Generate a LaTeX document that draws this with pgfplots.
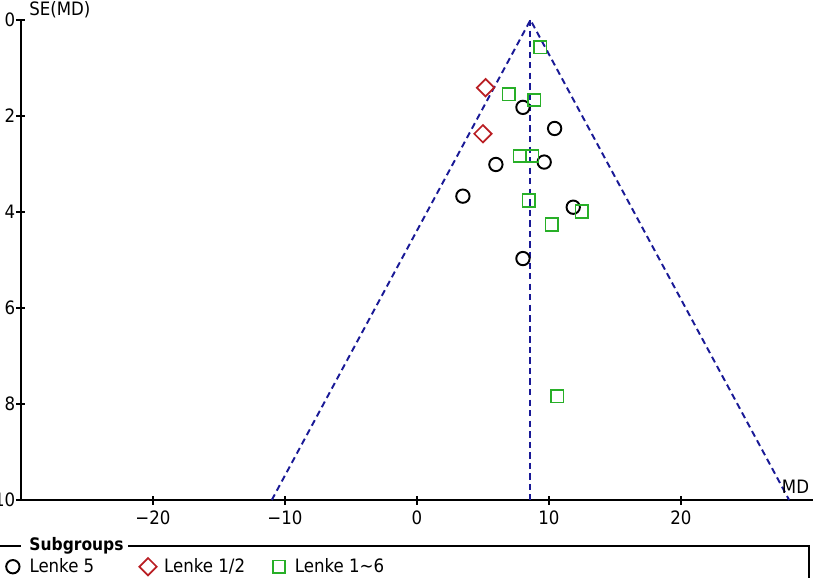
\documentclass[border=0pt]{standalone}
\usepackage{fontspec}
\setmainfont{DejaVu Sans}[FakeStretch=0.9]
\usepackage{pgfplots}
\pgfplotsset{compat=1.18}

\definecolor{funnelblue}{RGB}{25,25,150}
\definecolor{lenkered}{RGB}{185,30,35}
\definecolor{lenkegreen}{RGB}{40,175,40}

\pgfplotsset{
  lenke5/.style={only marks, mark=o, mark size=3.8pt, mark options={black, line width=1.1pt}},
  lenke12/.style={only marks, mark=square, mark size=3.5pt, mark options={lenkered, rotate=45, line width=1pt}},
  lenke16/.style={only marks, mark=square, mark size=3.5pt, mark options={lenkegreen, line width=1pt}},
}

\begin{document}
\begin{tikzpicture}
\useasboundingbox (-0.42,-1.56) rectangle (15.84,10.0);
\clip (-0.42,-1.56) rectangle (15.84,10.0);
\begin{axis}[
  scale only axis, width=15.97cm, height=9.6cm,
  xmin=-30, xmax=30.5, ymin=0, ymax=10, y dir=reverse,
  axis x line*=bottom, axis y line*=left,
  axis line style={-, line width=0.85pt},
  xtick={-20,-10,0,10,20}, xticklabels={−20,−10,0,10,20},
  ytick={0,2,4,6,8,10},
  tick align=center, major tick length=0.18cm,
  tick style={black, line width=0.85pt},
  /pgf/number format/assume math mode=true,
  ticklabel style={font=\fontsize{10.5}{12}\selectfont},
  yticklabel style={xshift=0.1cm},
  clip=false,
]
% pooled MD and 95% funnel limits
\addplot[funnelblue, line width=1.1pt, dash pattern=on 3.6pt off 2.4pt]
  coordinates {(-11.0,10) (8.6,0) (28.2,10)};
\addplot[funnelblue, line width=1.1pt, dash pattern=on 3.6pt off 2.4pt]
  coordinates {(8.6,0) (8.6,10)};

% Lenke 5
\addplot[lenke5]
  coordinates {(8.03,1.82) (10.43,2.26) (5.98,3.01) (9.64,2.96)
               (3.48,3.67) (11.84,3.90) (8.03,4.97)};
% Lenke 1/2
\addplot[lenke12]
  coordinates {(5.2,1.41) (5.0,2.37)};
% Lenke 1~6
\addplot[lenke16]
  coordinates {(9.34,0.57) (6.95,1.55) (8.89,1.67) (7.78,2.83) (8.74,2.83)
               (8.46,3.76) (10.2,4.26) (12.48,3.99) (10.63,7.84)};

\node[anchor=west, inner sep=0pt, font=\fontsize{10.5}{12}\selectfont]
  at (axis description cs:0,1) [xshift=0.16cm, yshift=0.2cm] {SE(MD)};
\node[inner sep=0pt, font=\fontsize{10.5}{12}\selectfont]
  at (axis description cs:0,0) [xshift=15.49cm, yshift=0.26cm] {MD};
\end{axis}

% legend (separate hidden axis, same frame)
\begin{axis}[
  scale only axis, width=15.97cm, height=9.6cm, hide axis,
  xmin=0, xmax=1, ymin=0, ymax=1,
  legend columns=3,
  legend style={draw=none, fill=none, at={(-0.019,-0.139)}, anchor=west,
    inner sep=0pt,
    nodes={inner sep=0pt, font=\fontsize{10.5}{12}\selectfont},
    /tikz/column 1/.style={column sep=0.2cm},
    /tikz/column 2/.style={column sep=0.9cm},
    /tikz/column 3/.style={column sep=0.15cm},
    /tikz/column 4/.style={column sep=0.55cm},
    /tikz/column 5/.style={column sep=0.2cm}},
  legend image code/.code={\draw[#1] plot coordinates {(0cm,0cm)};},
]
\addlegendimage{lenke5}
\addlegendentry{Lenke 5}
\addlegendimage{lenke12}
\addlegendentry{Lenke 1/2}
\addlegendimage{lenke16}
\addlegendentry{Lenke 1\textasciitilde 6}
\end{axis}

% legend frame
\draw[line width=0.85pt] (-0.42,-0.92) -- (0,-0.92);
\draw[line width=0.85pt] (2.14,-0.92) -- (15.76,-0.92) -- (15.76,-1.6);
\node[inner sep=0pt, font=\fontsize{9.8}{11}\selectfont\bfseries] at (1.11,-0.92) {Subgroups};
\end{tikzpicture}
\end{document}
